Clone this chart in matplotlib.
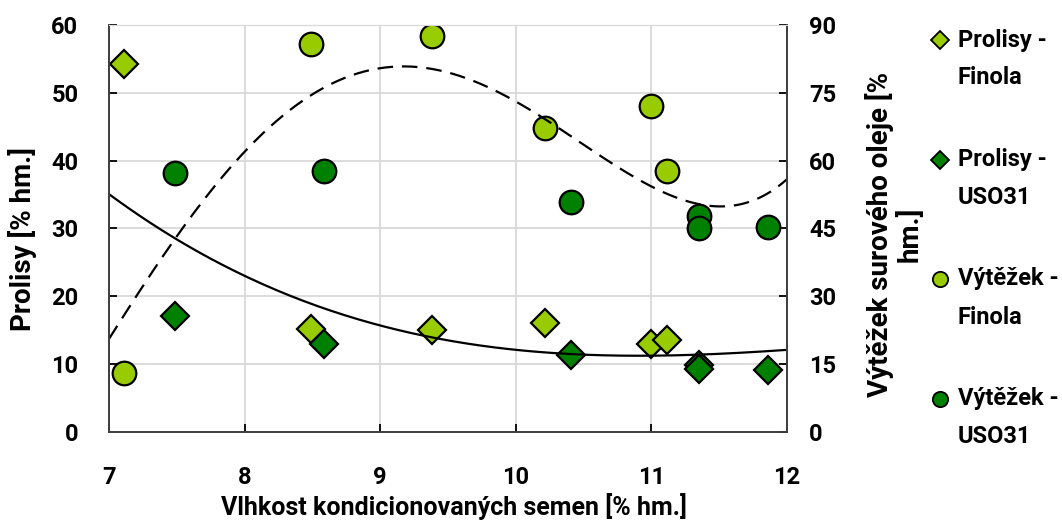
import numpy as np
import matplotlib.pyplot as plt
from matplotlib.lines import Line2D

plt.rcParams['font.family'] = ['Roboto', 'DejaVu Sans']
plt.rcParams['font.weight'] = 'bold'
plt.rcParams['font.size'] = 17

# moisture of conditioned seeds [% wt.]
x_finola = [7.11, 8.49, 9.38, 10.22, 11.0, 11.12]
x_uso = [7.49, 8.59, 10.41, 11.35, 11.35, 11.86]

# foots (left axis) and crude oil yield (right axis)
prolisy_finola = [54.3, 15.2, 15.0, 16.0, 13.0, 13.5]
prolisy_uso = [17.1, 12.9, 11.3, 9.8, 9.2, 9.1]
vytezek_finola = [12.9, 85.9, 87.5, 67.3, 72.0, 57.7]
vytezek_uso = [57.3, 57.6, 50.9, 47.7, 45.1, 45.4]

# trend line values read at given moistures
trend_x = [7, 7.5, 8, 8.5, 9, 9.5, 10, 10.5, 11, 11.5, 12]
trend_prolisy = [35.2, 28.2, 23.0, 18.5, 15.9, 13.9, 11.95, 11.2, 11.16, 11.46, 12.15]
trend_vytezek = [21.0, 42.4, 61.4, 75.6, 81.1, 79.3, 72.8, 62.5, 54.6, 50.9, 55.3]

light = '#99CC00'
dark = '#008000'
gridc = '#D9D9D9'

p_prolisy = np.polyfit(trend_x, trend_prolisy, 3)
p_vytezek = np.polyfit(trend_x, trend_vytezek, 4)
xt = np.linspace(7, 12, 200)

fig = plt.figure(figsize=(10.62, 5.2), dpi=100)
ax = fig.add_axes([0.1026, 0.1698, 0.6382, 0.7821])
ax2 = ax.twinx()

ax.grid(True, color=gridc, lw=1.3)
ax.set_axisbelow(True)

mk = dict(linestyle='none', markeredgecolor='black', markeredgewidth=1.6)
ax.plot(x_finola, prolisy_finola, marker='D', markersize=14, markerfacecolor=light, **mk)
ax.plot(x_uso, prolisy_uso, marker='D', markersize=14, markerfacecolor=dark, **mk)
ax.plot(xt, np.polyval(p_prolisy, xt), color='black', lw=1.6)

ax2.plot(x_finola, vytezek_finola, marker='o', markersize=17, markerfacecolor=light, **mk)
ax2.plot(x_uso, vytezek_uso, marker='o', markersize=17, markerfacecolor=dark, **mk)
ax2.plot(xt, np.polyval(p_vytezek, xt), color='black', lw=1.6, dashes=(7, 4))

ax.set_xlim(7, 12)
ax.set_ylim(0, 60)
ax2.set_ylim(0, 90)
ax.set_xticks([7, 8, 9, 10, 11, 12])
ax.set_yticks(range(0, 61, 10))
ax2.set_yticks(range(0, 91, 15))

ax.tick_params(axis='x', direction='in', length=6, width=1.3, pad=25)
ax.tick_params(axis='y', direction='in', length=6, width=1.3, pad=22)
ax2.tick_params(axis='y', direction='in', length=6, width=1.3, pad=16)

for a in (ax, ax2):
    a.spines['top'].set_color(gridc)
    for s in ('left', 'bottom', 'right'):
        a.spines[s].set_color('#404040')
        a.spines[s].set_linewidth(1.3)

fig.text(0.4275, 0.025, 'Vlhkost kondicionovaných semen [% hm.]', ha='center', va='center',
         fontsize=18)
fig.text(0.021, 0.54, 'Prolisy [% hm.]', rotation=90, ha='center', va='center', fontsize=20)
fig.text(0.842, 0.55, 'Výtěžek surového oleje [%\nhm.]', rotation=90, fontsize=20,
         ha='center', va='center', multialignment='center', linespacing=1.05)

# legend, marker next to the first line of each label
entries = [('D', light, 'Prolisy -', 'Finola'),
           ('D', dark, 'Prolisy -', 'USO31'),
           ('o', light, 'Výtěžek -', 'Finola'),
           ('o', dark, 'Výtěžek -', 'USO31')]
for i, (m, c, l1, l2) in enumerate(entries):
    y = 1 - (40 + i * 119.5) / 520
    size = 9 if m == 'D' else 11
    fig.add_artist(Line2D([0.885], [y], marker=m, markersize=size, markerfacecolor=c,
                          markeredgecolor='black', markeredgewidth=1.3, linestyle='none'))
    fig.text(0.902, y, l1, ha='left', va='center')
    fig.text(0.902, y - 38 / 520, l2, ha='left', va='center')

fig.savefig('out.png', dpi=100)
